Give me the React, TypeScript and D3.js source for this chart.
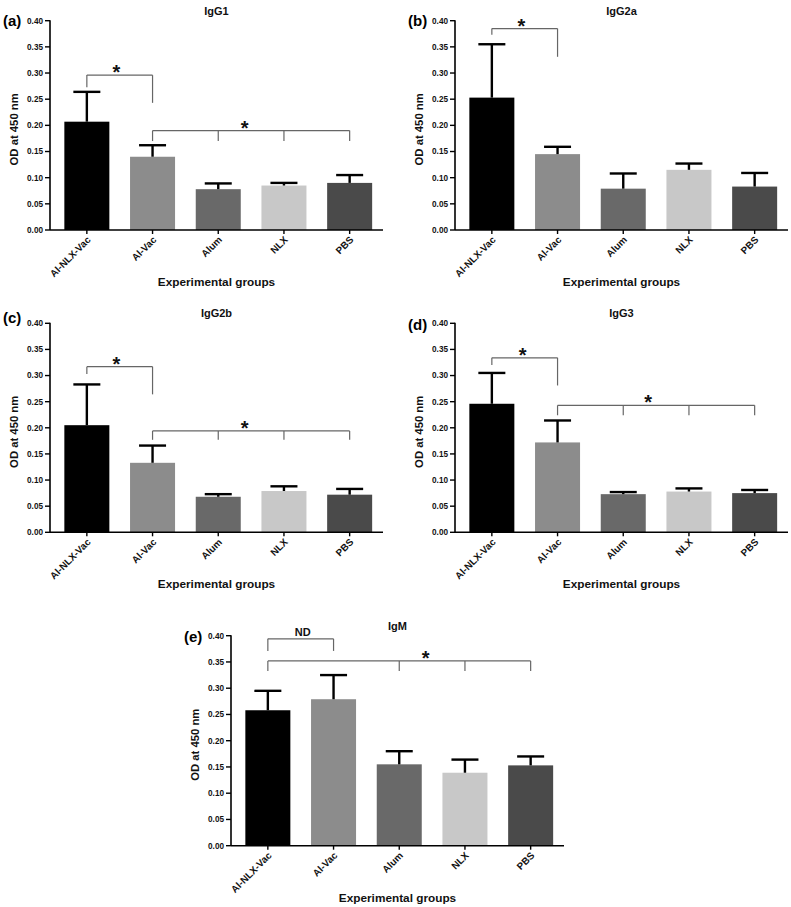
import React from "react";
import * as d3 from "d3";

const categories = ["Al-NLX-Vac", "Al-Vac", "Alum", "NLX", "PBS"];
const barColors = ["#000000", "#8c8c8c", "#696969", "#c8c8c8", "#4a4a4a"];
const yTicks = [0, 0.05, 0.1, 0.15, 0.2, 0.25, 0.3, 0.35, 0.4];

const igg1Values = [0.207, 0.14, 0.078, 0.085, 0.09];
const igg1Errors = [0.057, 0.022, 0.011, 0.005, 0.015];
const igg2aValues = [0.253, 0.145, 0.079, 0.115, 0.083];
const igg2aErrors = [0.102, 0.014, 0.029, 0.012, 0.026];
const igg2bValues = [0.205, 0.133, 0.068, 0.079, 0.072];
const igg2bErrors = [0.078, 0.033, 0.005, 0.009, 0.011];
const igg3Values = [0.246, 0.172, 0.073, 0.078, 0.075];
const igg3Errors = [0.059, 0.042, 0.004, 0.006, 0.006];
const igmValues = [0.258, 0.279, 0.155, 0.139, 0.153];
const igmErrors = [0.037, 0.046, 0.025, 0.025, 0.017];

type Bracket = { top: number; legs: [number, number][]; at: number; label: string };

const igg1Brackets: Bracket[] = [
  { top: 0.296, legs: [[0, 0.273], [1, 0.243]], at: 0.45, label: "*" },
  { top: 0.19, legs: [[1, 0.17], [2, 0.17], [3, 0.17], [4, 0.17]], at: 2.4, label: "*" },
];
const igg2aBrackets: Bracket[] = [
  { top: 0.385, legs: [[0, 0.373], [1, 0.331]], at: 0.45, label: "*" },
];
const igg2bBrackets: Bracket[] = [
  { top: 0.317, legs: [[0, 0.303], [1, 0.264]], at: 0.45, label: "*" },
  { top: 0.194, legs: [[1, 0.177], [2, 0.177], [3, 0.177], [4, 0.177]], at: 2.4, label: "*" },
];
const igg3Brackets: Bracket[] = [
  { top: 0.334, legs: [[0, 0.32], [1, 0.281]], at: 0.47, label: "*" },
  { top: 0.243, legs: [[1, 0.224], [2, 0.224], [3, 0.224], [4, 0.224]], at: 2.38, label: "*" },
];
const igmBrackets: Bracket[] = [
  { top: 0.394, legs: [[0, 0.371], [1, 0.371]], at: 0.53, label: "ND" },
  { top: 0.352, legs: [[0, 0.333], [2, 0.333], [3, 0.333], [4, 0.333]], at: 2.4, label: "*" },
];

const FONT = "'Liberation Sans', Arial, Helvetica, sans-serif";

type PanelProps = {
  ox: number;
  yTop: number;
  yBot: number;
  letter: string;
  letterY: number;
  title: string;
  values: number[];
  errors: number[];
  brackets: Bracket[];
};

function Panel({ ox, yTop, yBot, letter, letterY, title, values, errors, brackets }: PanelProps) {
  const axisEnd = ox + 333;
  const x = d3
    .scaleBand<number>()
    .domain(d3.range(categories.length))
    .range([ox + 4, ox + 332.5])
    .paddingInner(0.315)
    .paddingOuter(0.1575);
  const y = d3.scaleLinear().domain([0, 0.4]).range([yBot, yTop]);
  const bw = x.bandwidth();
  const step = x.step();
  const cx = (i: number) => (x(i) as number) + bw / 2;
  const cxf = (f: number) => cx(0) + f * step;
  const mid = (ox + axisEnd) / 2;

  return (
    <g fontFamily={FONT}>
      {values.map((v, i) => (
        <rect key={"b" + i} x={x(i)} y={y(v)} width={bw} height={yBot - y(v)} fill={barColors[i]} />
      ))}
      {values.map((v, i) => (
        <g key={"e" + i} stroke="#000" strokeWidth={2.4}>
          <line x1={cx(i)} x2={cx(i)} y1={y(v)} y2={y(v + errors[i])} />
          <line x1={cx(i) - bw * 0.3} x2={cx(i) + bw * 0.3} y1={y(v + errors[i])} y2={y(v + errors[i])} />
        </g>
      ))}
      <line x1={ox} x2={ox} y1={yTop - 0.5} y2={yBot} stroke="#000" strokeWidth={1.6} />
      <line x1={ox} x2={axisEnd} y1={yBot} y2={yBot} stroke="#000" strokeWidth={1.6} />
      {yTicks.map((t) => (
        <g key={"t" + t}>
          <line x1={ox - 5} x2={ox} y1={y(t)} y2={y(t)} stroke="#000" strokeWidth={1.4} />
          <text x={ox - 7} y={y(t)} dy="0.35em" textAnchor="end" fontSize={8.2} fontWeight="bold" fill="#111">
            {d3.format(".2f")(t)}
          </text>
        </g>
      ))}
      {categories.map((c, i) => (
        <g key={"x" + i}>
          <line x1={cx(i)} x2={cx(i)} y1={yBot} y2={yBot + 4} stroke="#000" strokeWidth={1.4} />
          <text
            transform={`translate(${cx(i) + 2},${yBot + 8}) rotate(-45)`}
            textAnchor="end"
            dy="0.35em"
            fontSize={9.8}
            fontWeight="bold"
            fill="#111"
          >
            {c}
          </text>
        </g>
      ))}
      {brackets.map((b, k) => {
        const xs = b.legs.map((l) => cx(l[0]));
        return (
          <g key={"br" + k}>
            <line x1={Math.min(...xs)} x2={Math.max(...xs)} y1={y(b.top)} y2={y(b.top)} stroke="#666" strokeWidth={1.2} />
            {b.legs.map((l, j) => (
              <line key={j} x1={cx(l[0])} x2={cx(l[0])} y1={y(b.top)} y2={y(l[1])} stroke="#666" strokeWidth={1.2} />
            ))}
            {b.label === "*" ? (
              <text x={cxf(b.at)} y={y(b.top) + 4} textAnchor="middle" fontSize={20} fontWeight="bold" fill="#111">
                *
              </text>
            ) : (
              <text x={cxf(b.at)} y={y(b.top) - 3} textAnchor="middle" fontSize={11} fontWeight="bold" fill="#111">
                {b.label}
              </text>
            )}
          </g>
        );
      })}
      <text x={mid} y={yTop - 6} textAnchor="middle" fontSize={11} fontWeight="bold" fill="#111">
        {title}
      </text>
      <text x={ox - 47} y={letterY} fontSize={15} fontWeight="bold" fill="#000">
        {letter}
      </text>
      <text
        transform={`translate(${ox - 36},${(yTop + yBot) / 2 + 4}) rotate(-90)`}
        textAnchor="middle"
        dy="0.35em"
        fontSize={11.3}
        fontWeight="bold"
        fill="#111"
      >
        OD at 450 nm
      </text>
      <text x={mid} y={yBot + 56} textAnchor="middle" fontSize={11.8} fontWeight="bold" fill="#111">
        Experimental groups
      </text>
    </g>
  );
}

export default function App() {
  return (
    <svg
      width={791}
      height={907}
      style={{ position: "absolute", left: 0, top: 0, background: "#fff" }}
    >
      <rect width={791} height={907} fill="#fff" />
      <Panel ox={50} yTop={20.7} yBot={230} letter="(a)" letterY={26} title="IgG1" values={igg1Values} errors={igg1Errors} brackets={igg1Brackets} />
      <Panel ox={455} yTop={20.7} yBot={230} letter="(b)" letterY={26} title="IgG2a" values={igg2aValues} errors={igg2aErrors} brackets={igg2aBrackets} />
      <Panel ox={50} yTop={323.3} yBot={532.3} letter="(c)" letterY={323} title="IgG2b" values={igg2bValues} errors={igg2bErrors} brackets={igg2bBrackets} />
      <Panel ox={455} yTop={323.3} yBot={532.3} letter="(d)" letterY={330} title="IgG3" values={igg3Values} errors={igg3Errors} brackets={igg3Brackets} />
      <Panel ox={231} yTop={635.7} yBot={845.7} letter="(e)" letterY={642} title="IgM" values={igmValues} errors={igmErrors} brackets={igmBrackets} />
    </svg>
  );
}
